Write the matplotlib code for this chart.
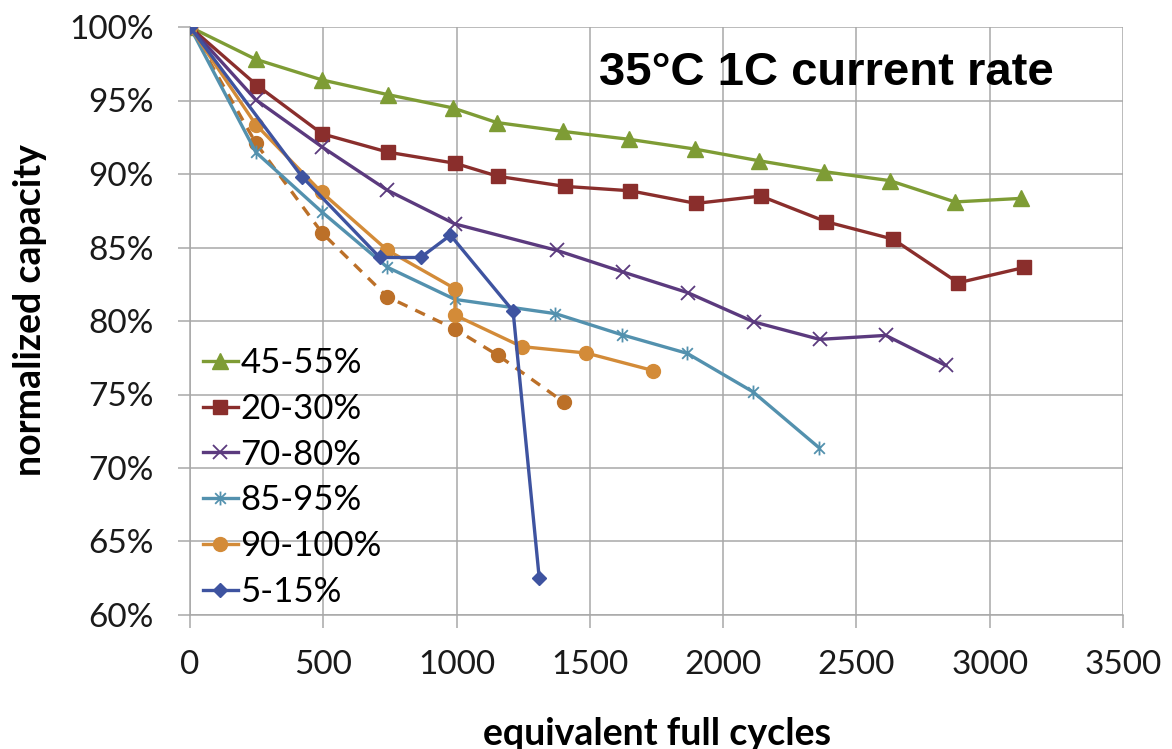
import matplotlib
matplotlib.use("Agg")
import matplotlib.pyplot as plt
from matplotlib.path import Path
from matplotlib.ticker import FuncFormatter

# ---- data ----
x_45_55 = [0, 247, 495, 742, 985, 1151, 1398, 1647, 1893, 2135, 2379, 2625, 2870, 3116]
y_45_55 = [100, 97.8, 96.4, 95.4, 94.5, 93.5, 92.9, 92.36, 91.7, 90.9, 90.16, 89.55, 88.1, 88.34]

x_20_30 = [0, 252, 496, 744, 994, 1156, 1405, 1651, 1898, 2141, 2387, 2637, 2882, 3129]
y_20_30 = [100, 96.02, 92.73, 91.48, 90.73, 89.84, 89.16, 88.86, 88.0, 88.5, 86.75, 85.57, 82.6, 83.64]

x_70_80 = [0, 247, 494, 740, 994, 1377, 1623, 1867, 2116, 2362, 2610, 2835]
y_70_80 = [100, 95.05, 91.86, 88.9, 86.6, 84.8, 83.34, 81.93, 79.93, 78.75, 79.02, 76.98]

x_85_95 = [0, 247, 494, 740, 994, 1371, 1619, 1865, 2112, 2361]
y_85_95 = [100, 91.48, 87.43, 83.66, 81.47, 80.5, 79.07, 77.8, 75.18, 71.36]

x_90_100 = [0, 247, 494, 740, 994, 994, 1244, 1487, 1737]
y_90_100 = [100, 93.36, 88.75, 84.82, 82.2, 80.4, 78.26, 77.82, 76.63]

x_90_100b = [0, 247, 496, 740, 994, 1156, 1403]
y_90_100b = [100, 92.1, 85.98, 81.65, 79.45, 77.66, 74.47]

x_5_15 = [0, 420, 712, 865, 977, 1212, 1310]
y_5_15 = [100, 89.82, 84.32, 84.32, 85.84, 80.68, 62.53]

x_ticks = [0, 500, 1000, 1500, 2000, 2500, 3000, 3500]
y_ticks = [60, 65, 70, 75, 80, 85, 90, 95, 100]

title_text = "35°C 1C current rate"
xlabel_text = "equivalent full cycles"
ylabel_text = "normalized capacity"

# ---- style ----
c_green = "#7E9C35"
c_red = "#8A2E2C"
c_purple = "#5B3A7E"
c_teal = "#5391AE"
c_orange = "#D38B38"
c_orange_d = "#BC7028"
c_blue = "#3E53A0"
grid_c = "#A8A8A8"

# asterisk-like marker: x plus vertical bar
star_path = Path(
    [(-1, -1), (1, 1), (-1, 1), (1, -1), (0, -1.3), (0, 1.3)],
    [Path.MOVETO, Path.LINETO, Path.MOVETO, Path.LINETO, Path.MOVETO, Path.LINETO],
)

tick_font = "Lato"
fig = plt.figure(figsize=(11.72, 7.49), dpi=100)
ax = fig.add_axes([190 / 1172, 1 - 615 / 749, (1123 - 190) / 1172, (615 - 27) / 749])

lw = 2.4
ax.plot(x_90_100b, y_90_100b, color=c_orange_d, lw=lw, ls=(0, (3.2, 2.6)), marker="o",
        ms=10, mec=c_orange_d, mfc=c_orange_d, zorder=3)
ax.plot(x_45_55, y_45_55, color=c_green, lw=lw, marker="^", ms=11, label="45-55%", zorder=4)
ax.plot(x_20_30, y_20_30, color=c_red, lw=lw, marker="s", ms=10, label="20-30%", zorder=4)
ax.plot(x_70_80, y_70_80, color=c_purple, lw=lw, marker="x", ms=10, mew=1.3, label="70-80%", zorder=4)
ax.plot(x_85_95, y_85_95, color=c_teal, lw=lw, marker=star_path, ms=10, mew=1.3,
        mfc="none", label="85-95%", zorder=4)
ax.plot(x_90_100, y_90_100, color=c_orange, lw=lw, marker="o", ms=10, label="90-100%", zorder=4)
ax.plot(x_5_15, y_5_15, color=c_blue, lw=lw, marker="D", ms=7, label="5-15%", zorder=5)

ax.set_xlim(x_ticks[0], x_ticks[-1])
ax.set_ylim(y_ticks[0], y_ticks[-1])
ax.set_xticks(x_ticks)
ax.set_yticks(y_ticks)
ax.yaxis.set_major_formatter(FuncFormatter(lambda v, p: f"{v:.0f}%"))
ax.grid(True, color=grid_c, lw=1.1)
ax.set_axisbelow(True)
for s in ax.spines.values():
    s.set_color(grid_c)
    s.set_linewidth(1.1)
ax.spines["top"].set_visible(False)
ax.spines["right"].set_visible(False)
ax.tick_params(axis="both", length=9, width=1.1, color=grid_c, labelsize=24, pad=16,
               labelcolor="#1a1a1a")
ax.tick_params(axis="y", pad=17)
for lab in ax.get_xticklabels() + ax.get_yticklabels():
    lab.set_fontfamily(tick_font)

ax.set_xlabel(xlabel_text, fontsize=27, fontweight="bold", family=tick_font)
ax.set_ylabel(ylabel_text, fontsize=27, fontweight="bold", family=tick_font)
ax.xaxis.set_label_coords((657 - 190) / 933, -(717 - 615) / 588)
ax.yaxis.set_label_coords(-(190 - 47) / 933, (615 - 310) / 588)

ax.text((826 - 190) / 933, (615 - 73) / 588, title_text, transform=ax.transAxes,
        ha="center", va="center", fontsize=34, fontweight="bold", family="Liberation Sans")

leg = ax.legend(loc="upper left", bbox_to_anchor=(-8 / 933, (615 - 326) / 588), frameon=False,
                prop={"family": tick_font, "size": 25}, handlelength=1.0, handletextpad=0.08,
                labelspacing=0.4, borderaxespad=0.4, borderpad=0.2)

fig.savefig("out.png", dpi=100)
